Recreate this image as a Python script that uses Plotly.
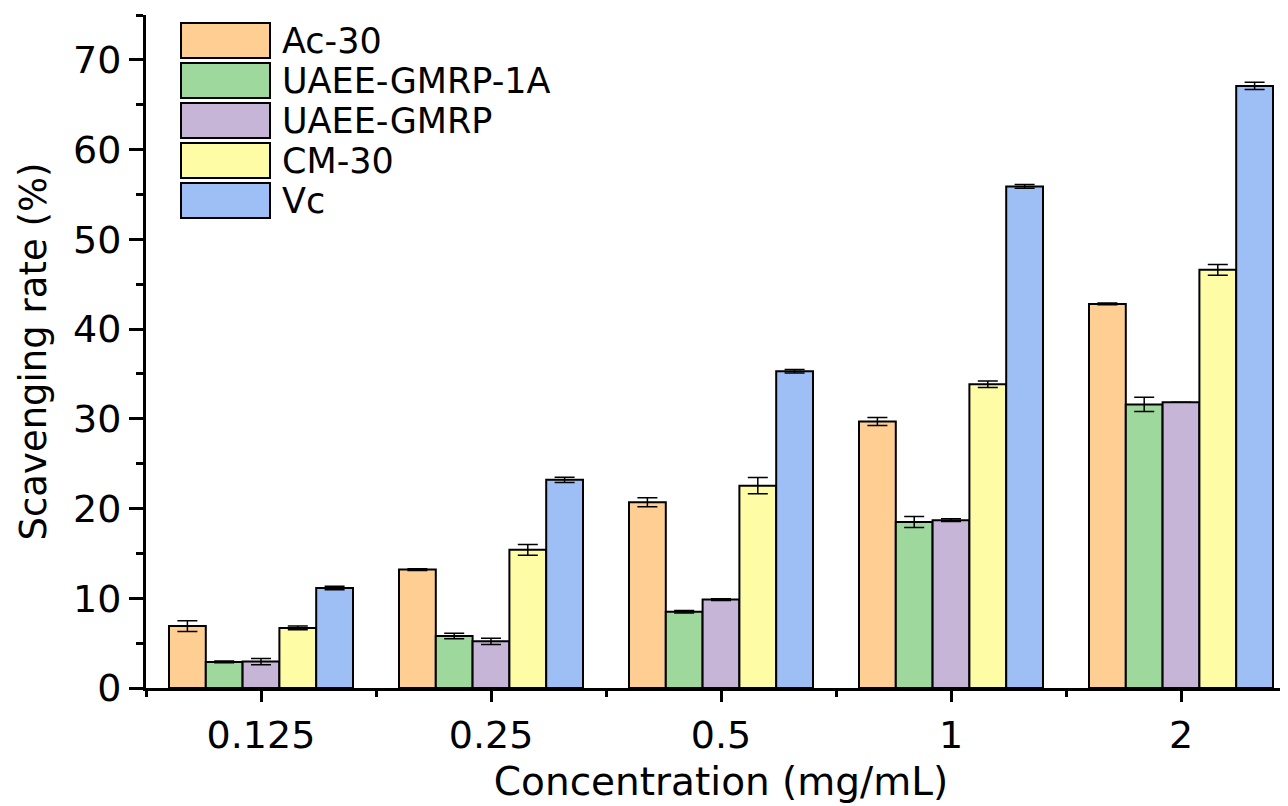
import plotly.graph_objects as go

categories = ["0.125", "0.25", "0.5", "1", "2"]
series_names = ["Ac-30", "UAEE-GMRP-1A", "UAEE-GMRP", "CM-30", "Vc"]
colors = ["#FFCE92", "#9ED89C", "#C7B5D7", "#FFFCA6", "#9EBEF6"]

ac30 = [6.9, 13.2, 20.7, 29.7, 42.8]
ac30_err = [0.6, 0.1, 0.5, 0.45, 0.1]
gmrp1a = [2.9, 5.8, 8.5, 18.5, 31.6]
gmrp1a_err = [0.1, 0.3, 0.15, 0.6, 0.8]
gmrp = [2.95, 5.2, 9.85, 18.7, 31.85]
gmrp_err = [0.35, 0.35, 0.1, 0.15, 0.0]
cm30 = [6.7, 15.4, 22.55, 33.85, 46.6]
cm30_err = [0.2, 0.6, 0.9, 0.35, 0.6]
vc = [11.15, 23.2, 35.3, 55.9, 67.1]
vc_err = [0.2, 0.3, 0.2, 0.2, 0.4]

values = [ac30, gmrp1a, gmrp, cm30, vc]
errors = [ac30_err, gmrp1a_err, gmrp_err, cm30_err, vc_err]

FONT = "DejaVu Sans"
OFF = 8  # page body margin
W, H = 1288, 798
ML, MR, MT, MB = 138, 0, 7, 118
PW, PH = W - ML - MR, H - MT - MB

xpos = list(range(len(categories)))

fig = go.Figure()
for name, col, v, e in zip(series_names, colors, values, errors):
    fig.add_trace(go.Bar(
        x=xpos, y=v, name=name,
        marker=dict(color=col, line=dict(color="black", width=2)),
        error_y=dict(type="data", array=e, visible=True, color="black",
                     thickness=1.5, width=10),
        showlegend=False,
    ))

# custom legend (large rectangles like the reference); positions in window pixels
def px_x(p):
    return (p - OFF - ML) / PW

def px_y(p):
    return (H - MB - (p - OFF)) / PH

shapes = []
annotations = []
for i, (name, col) in enumerate(zip(series_names, colors)):
    top = 23 + 40 * i
    shapes.append(dict(type="rect", xref="paper", yref="paper",
                       x0=px_x(181), x1=px_x(270), y0=px_y(top + 35), y1=px_y(top),
                       fillcolor=col, line=dict(color="black", width=2)))
    annotations.append(dict(xref="paper", yref="paper", x=px_x(280), y=px_y(top + 18),
                            text=name, showarrow=False, xanchor="left", yanchor="middle",
                            font=dict(family=FONT, size=35, color="black")))

fig.update_layout(
    width=W, height=H,
    margin=dict(l=ML, r=MR, t=MT, b=MB, pad=0),
    paper_bgcolor="white", plot_bgcolor="white",
    barmode="group", bargap=0.2, bargroupgap=0,
    shapes=shapes, annotations=annotations,
    font=dict(family=FONT, color="black"),
    xaxis=dict(
        range=[-0.5, -0.5 + PW / 230.0],
        tickvals=xpos, ticktext=categories,
        showline=True, linecolor="black", linewidth=3,
        ticks="outside", ticklen=11, tickwidth=3, tickcolor="black",
        minor=dict(ticks="outside", ticklen=6, tickwidth=3, tickcolor="black",
                   dtick=1, tick0=-0.5),
        showgrid=False, zeroline=False,
        tickfont=dict(family=FONT, size=38),
        title=dict(text="Concentration (mg/mL)", font=dict(family=FONT, size=39), standoff=13),
    ),
    yaxis=dict(
        range=[0, 75],
        tickvals=[0, 10, 20, 30, 40, 50, 60, 70],
        showline=True, linecolor="black", linewidth=3,
        ticks="outside", ticklen=14, tickwidth=3, tickcolor="black",
        minor=dict(ticks="outside", ticklen=7, tickwidth=3, tickcolor="black", dtick=5),
        showgrid=False, zeroline=False,
        tickfont=dict(family=FONT, size=38),
        title=dict(text="Scavenging rate (%)", font=dict(family=FONT, size=37), standoff=16),
    ),
)

fig.write_html("out.html")
